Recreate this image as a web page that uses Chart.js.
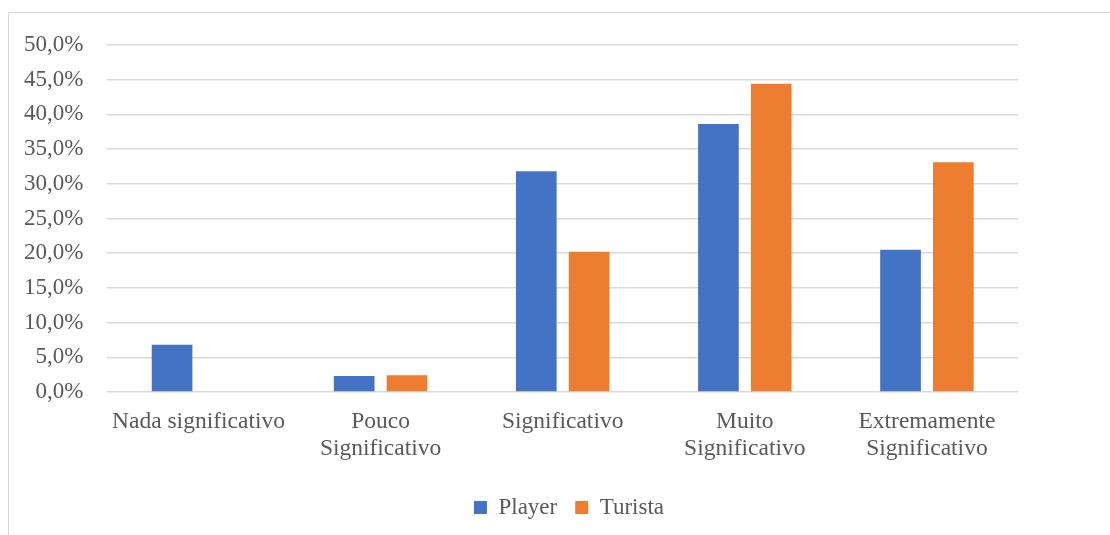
<!DOCTYPE html>
<html>
<head>
<meta charset="utf-8">
<script src="https://cdn.jsdelivr.net/npm/chart.js@4"></script>
<style>
  html, body { margin: 0; padding: 0; background: #fff; }
  body { width: 1110px; height: 535px; position: relative; overflow: hidden; }
  #frame { position: absolute; left: 8px; top: 12px; width: 1120px; height: 540px;
           border-left: 1.5px solid #d9d9d9; border-top: 1.5px solid #d9d9d9; }
  #wrap { position: absolute; left: 0; top: 0; width: 1110px; height: 535px; }
</style>
</head>
<body>
<div id="frame"></div>
<div id="wrap"><canvas id="c"></canvas></div>
<script>
const categories = [
  'Nada significativo',
  ['Pouco', 'Significativo'],
  'Significativo',
  ['Muito', 'Significativo'],
  ['Extremamente', 'Significativo']
];
const player = [6.8, 2.3, 31.8, 38.6, 20.5];
const turista = [0.0, 2.4, 20.2, 44.4, 33.1];
const yMin = 0, yMax = 50, yStep = 5;

const fontFamily = "'Liberation Serif', 'Times New Roman', serif";
const textColor = '#595959';

// Centre the legend under the whole frame rather than under the padded layout box.
const legendOffset = {
  id: 'legendOffset',
  afterLayout(chart) {
    const lg = chart.legend;
    if (lg) { lg.left += 60; lg.right += 60; }
  }
};

new Chart(document.getElementById('c'), {
  type: 'bar',
  data: {
    labels: categories,
    datasets: [
      { label: 'Player', data: player, backgroundColor: '#4472C4', borderWidth: 0,
        categoryPercentage: 0.58, barPercentage: 0.77 },
      { label: 'Turista', data: turista, backgroundColor: '#ED7D31', borderWidth: 0,
        categoryPercentage: 0.58, barPercentage: 0.77 }
    ]
  },
  plugins: [legendOffset],
  options: {
    responsive: true,
    maintainAspectRatio: false,
    animation: false,
    layout: { padding: { left: 0, right: 92, top: 45, bottom: 6 } },
    plugins: {
      tooltip: { enabled: false },
      legend: {
        position: 'bottom',
        labels: {
          boxWidth: 13, boxHeight: 13, padding: 18,
          color: textColor,
          font: { family: fontFamily, size: 23 }
        }
      }
    },
    scales: {
      x: {
        grid: { display: false, drawTicks: false },
        border: { display: false },
        ticks: { color: textColor, font: { family: fontFamily, size: 23.5, lineHeight: 1.15 },
                 padding: 16, maxRotation: 0, autoSkip: false }
      },
      y: {
        min: yMin, max: yMax,
        grid: { color: '#d9d9d9', lineWidth: 1.5, drawTicks: false },
        border: { display: false },
        ticks: {
          stepSize: yStep, padding: 24, color: textColor,
          font: { family: fontFamily, size: 23 },
          callback: v => v.toFixed(1).replace('.', ',') + '%'
        }
      }
    }
  }
});
</script>
</body>
</html>
